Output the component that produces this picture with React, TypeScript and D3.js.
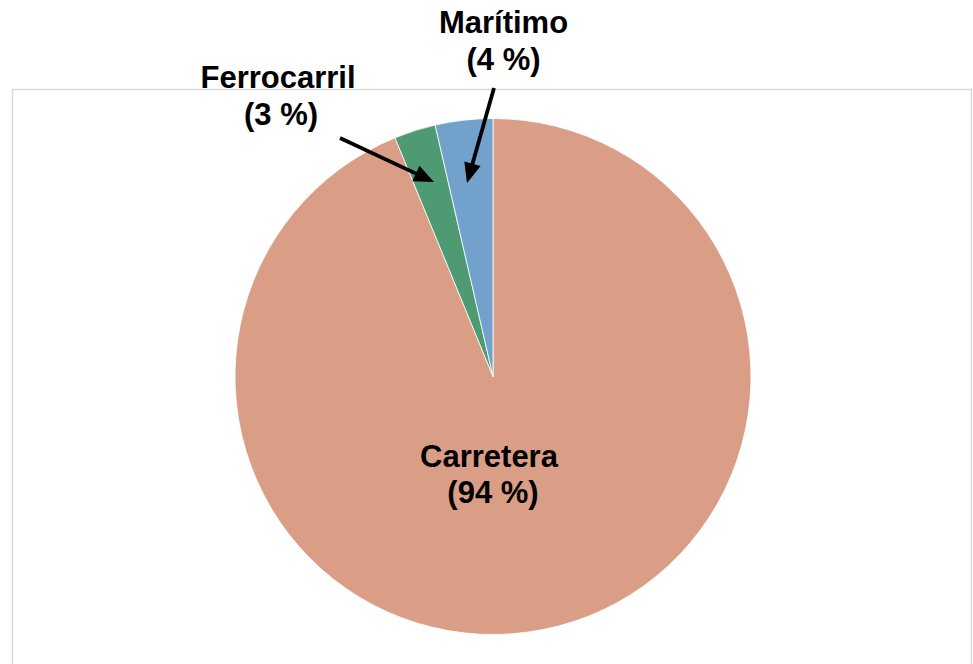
import React from "react";
import * as d3 from "d3";

const categories = ["Carretera", "Ferrocarril", "Marítimo"];
const values = [93.8, 2.6, 3.6];
const labels = ["(94 %)", "(3 %)", "(4 %)"];
const colors = ["#DA9E86", "#4E9A72", "#72A2CB"];

export default function App() {
  const W = 973, H = 664;
  const cx = 493, cy = 376.5, r = 258;
  const pie = d3.pie<number>().sort(null).value((d) => d);
  const arcs = pie(values);
  const arc = d3.arc<d3.PieArcDatum<number>>().innerRadius(0).outerRadius(r);
  const font = "Liberation Sans, Arial, sans-serif";
  const fs = 31;
  const lh = 36.7;

  const textLabels = [
    { x: 489, y: 466.7, i: 0 },
    { x: 278, y: 88.3, i: 1 },
    { x: 503.5, y: 33.3, i: 2 },
  ];
  const arrows = [
    { x1: 340, y1: 138, x2: 434, y2: 182 },
    { x1: 494, y1: 88, x2: 467, y2: 183 },
  ];
  const headLen = 20, headHalf = 8.5;

  return (
    <svg width={W} height={H} style={{ position: "absolute", left: 0, top: 0 }}>
      <rect x={0} y={0} width={W} height={H} fill="#fff" />
      <rect x={12.5} y={89.5} width={959} height={600} fill="none" stroke="#D9D9D9" strokeWidth={1.5} />
      <g transform={`translate(${cx},${cy})`}>
        {arcs.map((a, i) => (
          <path key={categories[i]} d={arc(a) || ""} fill={colors[i]} stroke="#fff" strokeWidth={0.8} />
        ))}
      </g>
      {arrows.map((a, i) => {
        const dx = a.x2 - a.x1, dy = a.y2 - a.y1;
        const len = Math.hypot(dx, dy);
        const ux = dx / len, uy = dy / len;
        const bx = a.x2 - ux * headLen, by = a.y2 - uy * headLen;
        const px = -uy, py = ux;
        const pts = [
          [a.x2, a.y2],
          [bx + px * headHalf, by + py * headHalf],
          [bx - px * headHalf, by - py * headHalf],
        ].map((p) => p.join(",")).join(" ");
        return (
          <g key={i}>
            <line x1={a.x1} y1={a.y1} x2={bx + ux * 2} y2={by + uy * 2} stroke="#000" strokeWidth={3.8} />
            <polygon points={pts} fill="#000" />
          </g>
        );
      })}
      {textLabels.map((t) => (
        <text key={t.i} x={t.x} y={t.y} fontFamily={font} fontWeight="bold" fontSize={fs} textAnchor="middle" fill="#000">
          <tspan x={t.x} y={t.y}>{categories[t.i]}</tspan>
          <tspan x={t.x + (t.i === 0 ? 4 : t.i === 1 ? 3 : 0)} y={t.y + lh}>{labels[t.i]}</tspan>
        </text>
      ))}
    </svg>
  );
}
